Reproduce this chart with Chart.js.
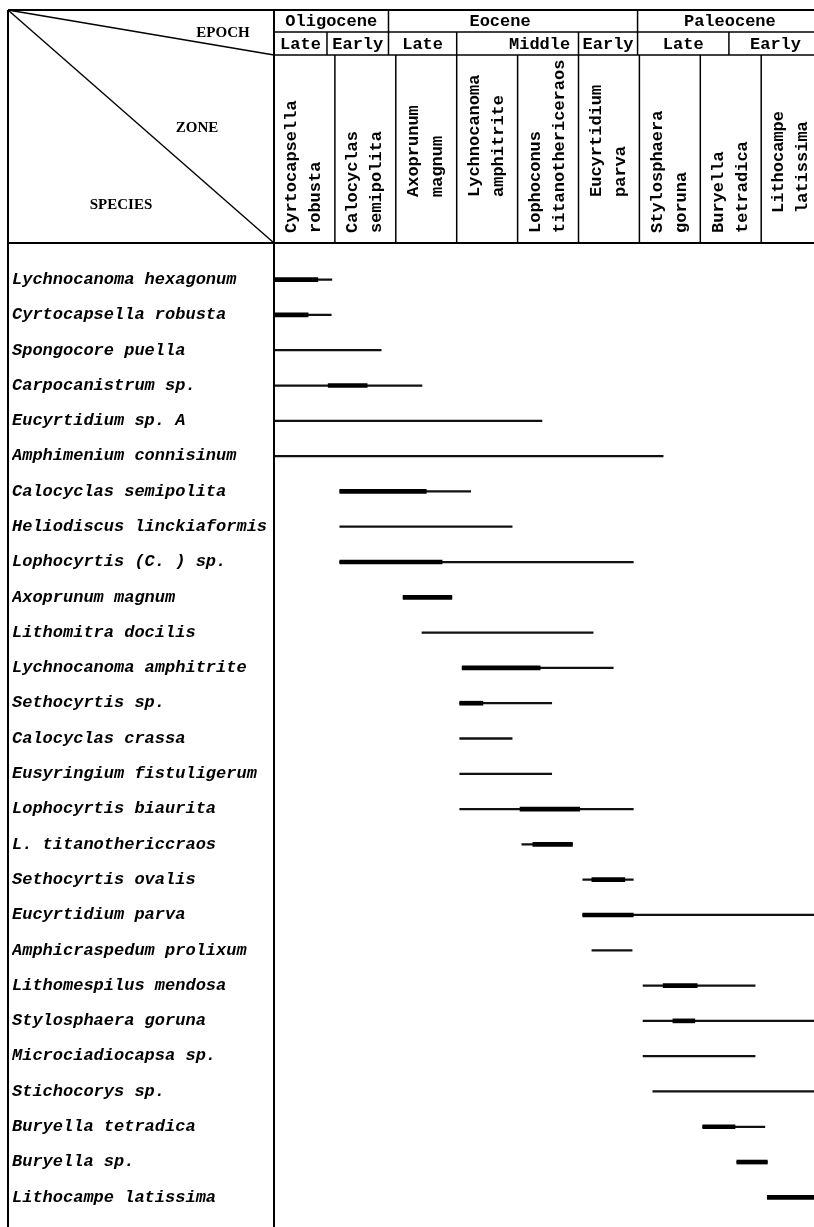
<!DOCTYPE html>
<html>
<head>
<meta charset="utf-8">
<script src="https://cdn.jsdelivr.net/npm/chart.js@4.4.1/dist/chart.umd.min.js"></script>
<style>
html,body{margin:0;padding:0;background:#fff;overflow:hidden}
canvas{display:block}
</style>
</head>
<body>
<canvas id="c" width="814" height="1227"></canvas>
<script>
// ---------- data ----------
const species = [
  'Lychnocanoma hexagonum','Cyrtocapsella robusta','Spongocore puella','Carpocanistrum sp.',
  'Eucyrtidium sp. A','Amphimenium connisinum','Calocyclas semipolita','Heliodiscus linckiaformis',
  'Lophocyrtis (C. ) sp.','Axoprunum magnum','Lithomitra docilis','Lychnocanoma amphitrite',
  'Sethocyrtis sp.','Calocyclas crassa','Eusyringium fistuligerum','Lophocyrtis biaurita',
  'L. titanothericcraos','Sethocyrtis ovalis','Eucyrtidium parva','Amphicraspedum prolixum',
  'Lithomespilus mendosa','Stylosphaera goruna','Microciadiocapsa sp.','Stichocorys sp.',
  'Buryella tetradica','Buryella sp.','Lithocampe latissima'
];
// total range (thin line), in zone units (0 = top of Cyrtocapsella robusta zone)
const rangeStart = [0,0,0,0,0,0,1.08,1.08,1.08,2.12,2.43,3.09,3.05,3.05,3.05,3.05,4.07,5.07,5.07,5.22,6.06,6.06,6.06,6.22,7.04,7.6,8.1];
const rangeEnd   = [0.95,0.94,1.76,2.43,4.4,6.39,3.23,3.91,5.9,2.92,5.24,5.57,4.56,3.91,4.56,5.9,4.9,5.9,9,5.88,7.9,9,7.9,9,8.06,8.1,9];
// abundant interval (thick line); null = none
const peakStart = [0,0,null,0.89,null,null,1.08,null,1.08,2.12,null,3.09,3.05,null,null,4.04,4.25,5.22,5.07,null,6.39,6.55,null,null,7.04,7.6,8.1];
const peakEnd   = [0.72,0.56,null,1.53,null,null,2.5,null,2.76,2.92,null,4.37,3.43,null,null,5.02,4.9,5.76,5.9,null,6.95,6.91,null,null,7.57,8.1,9];

const zoneNames = [
  ['Cyrtocapsella','robusta'],['Calocyclas','semipolita'],['Axoprunum','magnum'],
  ['Lychnocanoma','amphitrite'],['Lophoconus','titanothericeraos'],['Eucyrtidium','parva'],
  ['Stylosphaera','goruna'],['Buryella','tetradica'],['Lithocampe','latissima']
];
const epochNames = ['Oligocene','Eocene','Paleocene'];
const epochBounds = [0, 1.88, 5.97, 9];
const subEpochNames = ['Late','Early','Late','Middle','Early','Late','Early'];
const subEpochBounds = [0, 0.87, 1.88, 3.0, 5.0, 5.97, 7.47, 9];

// ---------- layout (pixels) ----------
const FRAME_L = 8, FRAME_T = 10, ROW1_B = 32, ROW2_B = 55, HEAD_B = 243;
const zoneTextBottom = [233,233,197,197,233,197,233,233,213];
const epochLabelDx = [0,-13,0];
const subLabelDx = [0,0,0,22,0,0,0];
const MONO = '"Liberation Mono","DejaVu Sans Mono",monospace';
const SERIF = '"Liberation Serif","DejaVu Serif",serif';

const thin = species.map((_, i) => rangeStart[i] == null ? null : [rangeStart[i], rangeEnd[i]]);
const thick = species.map((_, i) => peakStart[i] == null ? null : [peakStart[i], peakEnd[i]]);

const headerPlugin = {
  id: 'header',
  afterDraw(chart) {
    const ctx = chart.ctx, xs = chart.scales.x;
    const R = chart.width + 20, B = chart.height;
    const X0 = chart.chartArea.left;
    const px = v => xs.getPixelForValue(v);
    ctx.save();
    ctx.strokeStyle = '#000';
    ctx.fillStyle = '#000';
    const line = (x1, y1, x2, y2, w) => { ctx.lineWidth = w; ctx.beginPath(); ctx.moveTo(x1, y1); ctx.lineTo(x2, y2); ctx.stroke(); };
    // outer frame
    line(FRAME_L, FRAME_T, R, FRAME_T, 2);
    line(FRAME_L, FRAME_T, FRAME_L, B, 2);
    line(X0, FRAME_T, X0, B, 2);
    line(FRAME_L, HEAD_B, R, HEAD_B, 2);
    line(X0, ROW1_B, R, ROW1_B, 1.5);
    line(X0, ROW2_B, R, ROW2_B, 1.5);
    // diagonals
    line(FRAME_L, FRAME_T, X0, ROW2_B, 1.4);
    line(FRAME_L, FRAME_T, X0, HEAD_B, 1.4);
    // dividers
    for (let i = 1; i < epochBounds.length - 1; i++) line(px(epochBounds[i]), FRAME_T, px(epochBounds[i]), ROW1_B, 1.5);
    for (let i = 1; i < subEpochBounds.length - 1; i++) line(px(subEpochBounds[i]), ROW1_B, px(subEpochBounds[i]), ROW2_B, 1.5);
    for (let z = 1; z < zoneNames.length; z++) line(px(z), ROW2_B, px(z), HEAD_B, 1.5);
    // corner titles
    ctx.font = 'bold 15px ' + SERIF;
    ctx.textAlign = 'center';
    ctx.textBaseline = 'middle';
    ctx.fillText('EPOCH', 223, 33);
    ctx.fillText('ZONE', 197, 128);
    ctx.fillText('SPECIES', 121, 205);
    // epoch / sub-epoch
    ctx.font = 'bold 17px ' + MONO;
    epochNames.forEach((n, i) => ctx.fillText(n, (px(epochBounds[i]) + px(epochBounds[i + 1])) / 2 + epochLabelDx[i], (FRAME_T + ROW1_B) / 2 + 1));
    subEpochNames.forEach((n, i) => ctx.fillText(n, (px(subEpochBounds[i]) + px(subEpochBounds[i + 1])) / 2 + subLabelDx[i], (ROW1_B + ROW2_B) / 2 + 1));
    // zone names, rotated
    ctx.textAlign = 'left';
    zoneNames.forEach((lines, z) => {
      const left = px(z);
      lines.forEach((t, k) => {
        ctx.save();
        ctx.translate(left + 18 + k * 24, zoneTextBottom[z]);
        ctx.rotate(-Math.PI / 2);
        ctx.fillText(t, 0, 0);
        ctx.restore();
      });
    });
    ctx.restore();
  }
};

new Chart(document.getElementById('c'), {
  type: 'bar',
  data: {
    labels: species,
    datasets: [
      { label: 'abundant', data: thick, backgroundColor: '#000', barThickness: 4, grouped: false, borderWidth: 0 },
      { label: 'range', data: thin, backgroundColor: '#111', barThickness: 1.6, grouped: false, borderWidth: 0 }
    ]
  },
  options: {
    responsive: false,
    animation: false,
    indexAxis: 'y',
    layout: { padding: { left: 12, top: 262, bottom: 12, right: 0 } },
    plugins: { legend: { display: false }, tooltip: { enabled: false } },
    scales: {
      x: { type: 'linear', min: 0, max: 8.867, display: false },
      y: {
        type: 'category',
        grid: { display: false },
        border: { display: false },
        ticks: {
          crossAlign: 'far', autoSkip: false, padding: 0, color: '#000',
          font: { family: MONO, size: 17, style: 'italic', weight: 'bold' }
        },
        afterFit(s) { s.width = 262; }
      }
    }
  },
  plugins: [headerPlugin]
});
</script>
</body>
</html>
